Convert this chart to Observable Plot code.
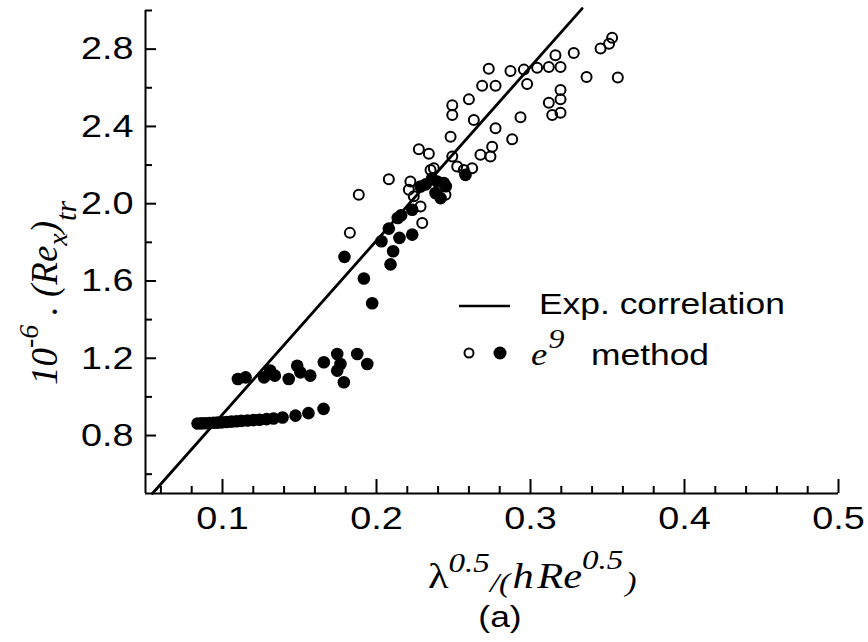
<!DOCTYPE html>
<html><head><meta charset="utf-8">
<script src="https://cdn.jsdelivr.net/npm/d3@7"></script>
<script src="https://cdn.jsdelivr.net/npm/@observablehq/plot@0.6"></script>
<style>body{margin:0;background:#fff;} svg{display:block}</style>
</head><body><div id="chart"></div>
<script>
// e^9 method, open symbols
const openX = [
  0.2729,0.2870,0.2957,0.3043,0.3119,0.3162,0.3195,0.3281,0.2686,0.2773,
  0.2978,0.2600,0.2492,0.2492,0.3195,0.3195,0.3119,0.3141,0.3195,0.2632,
  0.2773,0.2935,0.2481,0.2881,0.2275,0.2340,0.2675,0.2740,0.2751,0.2524,
  0.2621,0.2372,0.2492,0.3530,0.3510,0.3455,0.3567,0.3364,0.2567,0.2448,
  0.2080,0.1885,0.1827,0.2286,0.2297,0.2242,0.2351,0.2220,0.2210];
const openY = [
  2.699,2.687,2.694,2.704,2.708,2.768,2.708,2.780,2.610,2.610,
  2.619,2.540,2.510,2.459,2.588,2.540,2.522,2.459,2.471,2.433,
  2.390,2.447,2.347,2.333,2.282,2.258,2.253,2.244,2.295,2.192,
  2.184,2.184,2.244,2.859,2.828,2.803,2.653,2.656,2.175,2.046,
  2.127,2.046,1.849,1.986,1.900,2.038,2.175,2.115,2.072];
// e^9 method, filled symbols
const filledX = [
  0.0838,0.0864,0.0890,0.0916,0.0942,0.0968,0.0994,0.1026,0.1058,0.1091,
  0.1123,0.1162,0.1201,0.1240,0.1286,0.1331,0.1390,0.1474,0.1558,0.1656,
  0.1100,0.1150,0.1270,0.1310,0.1340,0.1430,0.1485,0.1506,0.1570,0.1658,
  0.1745,0.1766,0.1745,0.1788,0.1875,0.1940,0.1792,0.1918,0.1972,0.2032,
  0.2080,0.2138,0.2149,0.2108,0.2091,0.2232,0.2232,0.2286,0.2394,0.2437,
  0.2383,0.2416,0.2578,0.2320,0.2360,0.2450,0.2160];
const filledY = [
  0.862,0.863,0.864,0.865,0.866,0.867,0.868,0.870,0.872,0.874,
  0.876,0.878,0.880,0.882,0.885,0.888,0.893,0.903,0.916,0.938,
  1.093,1.101,1.101,1.136,1.110,1.093,1.161,1.127,1.110,1.179,
  1.222,1.170,1.136,1.076,1.222,1.170,1.725,1.613,1.485,1.806,
  1.871,1.926,1.823,1.754,1.686,1.840,1.969,2.089,2.115,2.107,
  2.055,2.029,2.149,2.100,2.130,2.090,1.940];
// Experimental correlation (end points of the straight line)
const corrX = [0.0545, 0.3335];
const corrY = [0.5, 3.01];

const xMajorTicks = [0.1, 0.2, 0.3, 0.4, 0.5];
const xMinorTicks = [0.06,0.08,0.12,0.14,0.16,0.18,0.22,0.24,0.26,0.28,0.32,0.34,0.36,0.38,0.42,0.44,0.46,0.48];
const yMajorTicks = [0.8, 1.2, 1.6, 2.0, 2.4, 2.8];
const yMinorTicks = [0.6, 1.0, 1.4, 1.8, 2.2, 2.6, 3.0];
const legendLine = "Exp. correlation";
const legendDots = "method";
const caption = "(a)";

const openData = openX.map((x, i) => ({x, y: openY[i]}));
const filledData = filledX.map((x, i) => ({x, y: filledY[i]}));
const corrData = corrX.map((x, i) => ({x, y: corrY[i]}));

const sans = "'Liberation Sans', Arial, Helvetica, sans-serif";
const serif = "'Liberation Serif', 'Times New Roman', serif";
const fmt = d => d.toFixed(1);
const blank = () => "";
const SX = 1.18; // the original lettering is wider than Arial

const plot = Plot.plot({
  width: 868, height: 642,
  marginLeft: 145, marginRight: 30, marginTop: 10, marginBottom: 149,
  x: {domain: [0.05, 0.5], label: null},
  y: {domain: [0.5, 3.0], label: null},
  style: {background: "white", color: "black", fontFamily: sans},
  marks: [
    Plot.ruleX([0.05], {stroke: "black", strokeWidth: 2}),
    Plot.ruleY([0.5], {stroke: "black", strokeWidth: 2}),
    Plot.axisY(yMajorTicks, {anchor: "left", tickSize: 11, dx: 11, strokeWidth: 2, tickFormat: blank, label: null}),
    Plot.axisY(yMinorTicks, {anchor: "left", tickSize: 7, dx: 7, strokeWidth: 2, tickFormat: blank, label: null}),
    Plot.axisY(yMajorTicks, {anchor: "left", tickSize: 0, tickPadding: 12, fontSize: 32, tickFormat: fmt, label: null}),
    Plot.axisX(xMajorTicks, {anchor: "bottom", tickSize: 14, dy: -14, strokeWidth: 2, tickFormat: blank, label: null}),
    Plot.axisX(xMinorTicks, {anchor: "bottom", tickSize: 7, dy: -7, strokeWidth: 2, tickFormat: blank, label: null}),
    Plot.axisX(xMajorTicks, {anchor: "bottom", tickSize: 0, tickPadding: 13, fontSize: 32, tickFormat: fmt, label: null}),
    Plot.line(corrData, {x: "x", y: "y", stroke: "black", strokeWidth: 2.8}),
    Plot.dot(openData, {x: "x", y: "y", r: 5, stroke: "black", strokeWidth: 2, fill: "none"}),
    Plot.dot(filledData, {x: "x", y: "y", r: 6.3, fill: "black", stroke: "none"})
  ]
});
document.getElementById("chart").appendChild(plot);

const svg = d3.select(plot);

// widen Plot's tick labels (keeping their anchors) to match the original lettering
svg.selectAll("text").each(function() {
  if (!this.textContent) return;
  const len = this.getComputedTextLength();
  if (len > 0) {
    this.setAttribute("textLength", (len * SX).toFixed(1));
    this.setAttribute("lengthAdjust", "spacingAndGlyphs");
  }
});

// y axis title
const yt = svg.append("text")
  .attr("transform", "translate(57,293) rotate(-90)")
  .attr("text-anchor", "middle")
  .attr("font-family", serif).attr("font-style", "italic")
  .attr("font-size", 37).attr("fill", "black");
yt.append("tspan").text("10");
yt.append("tspan").attr("font-size", 28).attr("dy", -19).text("-6");
yt.append("tspan").attr("dy", 19).text(" . (Re");
yt.append("tspan").attr("font-size", 28).attr("dy", 10).text("x");
yt.append("tspan").attr("dy", -10).text(")");
yt.append("tspan").attr("font-size", 30).attr("dy", 19).text("tr");

// x axis title
const xt = svg.append("text")
  .attr("transform", `translate(428,588) scale(${SX},1)`)
  .attr("text-anchor", "start")
  .attr("font-family", serif).attr("font-size", 36).attr("fill", "black");
xt.append("tspan").text("λ");
xt.append("tspan").attr("font-style", "italic").attr("font-size", 28).attr("dy", -16).text("0.5");
xt.append("tspan").attr("font-style", "italic").attr("font-size", 28).attr("dy", 20).text("/(");
xt.append("tspan").attr("font-style", "italic").attr("dy", -4).attr("dx", 2).text("h");
xt.append("tspan").attr("font-style", "italic").attr("dx", 3).text("Re");
xt.append("tspan").attr("font-style", "italic").attr("font-size", 28).attr("dy", -19).text("0.5");
xt.append("tspan").attr("font-style", "italic").attr("font-size", 28).attr("dy", 22).attr("dx", 2).text(")");

// caption
svg.append("text").attr("transform", `translate(500,627) scale(${SX},1)`).attr("text-anchor", "middle")
  .attr("font-family", sans).attr("font-size", 30).attr("fill", "black").text(caption);

// legend
const lg = svg.append("g");
lg.append("line").attr("x1", 459).attr("x2", 510).attr("y1", 306).attr("y2", 306)
  .attr("stroke", "black").attr("stroke-width", 2.5);
lg.append("text").attr("transform", `translate(539,314) scale(${SX},1)`).attr("text-anchor", "start")
  .attr("font-family", sans).attr("font-size", 30).attr("fill", "black").text(legendLine);
lg.append("circle").attr("cx", 469).attr("cy", 353).attr("r", 4.5)
  .attr("fill", "none").attr("stroke", "black").attr("stroke-width", 2);
lg.append("circle").attr("cx", 500).attr("cy", 353).attr("r", 6.5).attr("fill", "black");
const et = lg.append("text").attr("transform", `translate(531,365) scale(${SX},1)`).attr("text-anchor", "start")
  .attr("font-family", serif).attr("font-style", "italic").attr("font-size", 31).attr("fill", "black");
et.append("tspan").text("e");
et.append("tspan").attr("font-size", 27).attr("dy", -17).attr("dx", 1).text("9");
lg.append("text").attr("transform", `translate(591,365) scale(${SX},1)`).attr("text-anchor", "start")
  .attr("font-family", sans).attr("font-size", 30).attr("fill", "black").text(legendDots);
</script>
</body></html>
